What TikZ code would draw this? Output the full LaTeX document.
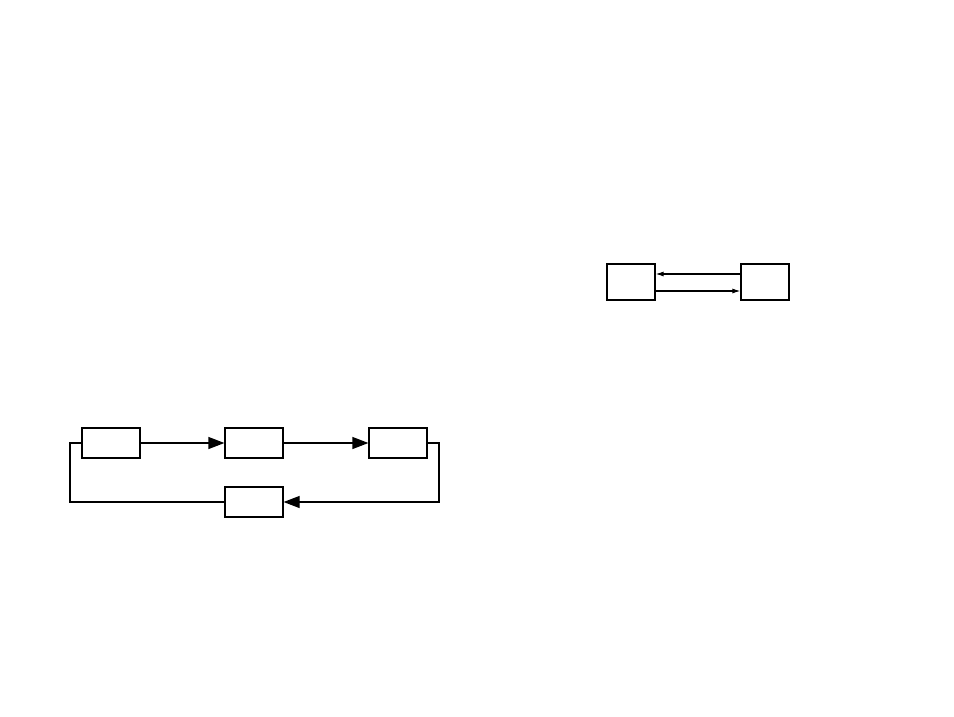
\documentclass[tikz,border=0pt]{standalone}
\usetikzlibrary{arrows.meta}
\begin{document}
\begin{tikzpicture}
            [x=1pt, y=-1pt, box/.style={draw, line width=1.2pt, minimum width=58pt, minimum height=30pt, inner sep=0pt},
            smallbox/.style={draw, line width=1.2pt, minimum width=48pt, minimum height=36pt, inner sep=0pt},
            edge/.style={line width=1.2pt, black, -{Triangle[length=16pt, width=12pt]}},
            link/.style={line width=1.1pt, black, -{Latex[length=8pt, width=5pt]}}]

            \useasboundingbox (0,0) rectangle (954,716);

            \node[box] (a) at (111,443) {};
            \node[box] (b) at (254,443) {};
            \node[box] (c) at (398,443) {};
            \node[box] (d) at (254,502) {};
            \node[smallbox] (e) at (631,282) {};
            \node[smallbox] (f) at (765,282) {};

            % Corners of the loop
            \coordinate (cl) at (70,502);
            \coordinate (cr) at (439,502);

            \draw[edge] (a) -- (b);
            \draw[edge] (b) -- (c);
            \draw[edge] (c.east) -| (cr) -- (d.east);
            \draw[line width=1.2pt] (a.west) -| (cl) -- (d.west);

            \draw[link] (f.west |- 0,274) -- (e.east |- 0,274);
            \draw[link] (e.east |- 0,291) -- (f.west |- 0,291);

        \end{tikzpicture}
\end{document}
